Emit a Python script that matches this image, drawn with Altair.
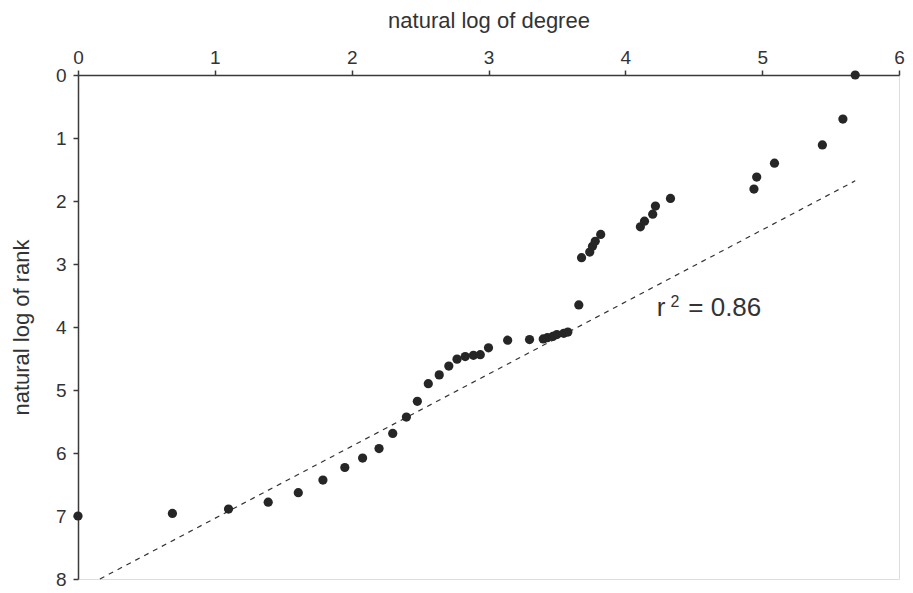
import altair as alt
import pandas as pd

# ln(degree) and ln(rank)
ln_degree = [0.00, 0.69, 1.10, 1.39, 1.61, 1.79, 1.95, 2.08, 2.20, 2.30,
             2.40, 2.48, 2.56, 2.64, 2.71, 2.77, 2.83, 2.89, 2.94, 3.00,
             3.14, 3.30, 3.40, 3.43, 3.47, 3.50, 3.55, 3.58, 3.66, 3.68,
             3.74, 3.76, 3.78, 3.82, 4.11, 4.14, 4.20, 4.22, 4.33, 4.94,
             4.96, 5.09, 5.44, 5.59, 5.68]
ln_rank = [7.00, 6.96, 6.89, 6.78, 6.63, 6.43, 6.23, 6.08, 5.93, 5.69,
           5.43, 5.18, 4.90, 4.76, 4.62, 4.51, 4.47, 4.45, 4.44, 4.33,
           4.21, 4.20, 4.19, 4.17, 4.15, 4.12, 4.10, 4.08, 3.65, 2.90,
           2.81, 2.72, 2.64, 2.53, 2.41, 2.32, 2.21, 2.08, 1.96, 1.81,
           1.62, 1.40, 1.11, 0.70, 0.00]

# fitted regression line end points
fit_x = [0.16, 5.68]
fit_y = [8.00, 1.68]

x_ticks = [0, 1, 2, 3, 4, 5, 6]
y_ticks = [0, 1, 2, 3, 4, 5, 6, 7, 8]

# annotation pieces
ann_text = ["r", "2", "= 0.86"]
ann_x = [4.23, 4.33, 4.46]
ann_y = [3.82, 3.68, 3.82]
ann_size = [26, 16, 26]

pts = pd.DataFrame({"x": ln_degree, "y": ln_rank})
fit = pd.DataFrame({"x": fit_x, "y": fit_y})
ann = pd.DataFrame({"x": ann_x, "y": ann_y, "t": ann_text, "s": ann_size})

FONT = "Liberation Sans"
AX = "#3a3a3a"

xs = alt.Scale(domain=[0, 6], nice=False, zero=False)
ys = alt.Scale(domain=[0, 8], nice=False, zero=False, reverse=True)

x_axis = alt.Axis(orient="top", values=x_ticks, format="d",
                  title="natural log of degree",
                  grid=False, tickSize=5, labelFontSize=19, titleFontSize=22,
                  titleFontWeight="normal", labelFlush=False, labelOverlap=False,
                  domainColor=AX, tickColor=AX, labelColor="#333333",
                  titleColor="#333333", labelFont=FONT, titleFont=FONT,
                  domainWidth=1.5, tickWidth=1.5, labelPadding=3, titlePadding=16)
y_axis = alt.Axis(orient="left", values=y_ticks, format="d",
                  title="natural log of rank",
                  grid=False, tickSize=5, labelFontSize=19, titleFontSize=22,
                  titleFontWeight="normal", labelFlush=False, labelOverlap=False,
                  domainColor=AX, tickColor=AX, labelColor="#333333",
                  titleColor="#333333", labelFont=FONT, titleFont=FONT,
                  domainWidth=1.5, tickWidth=1.5, labelPadding=7, titlePadding=22)

points = alt.Chart(pts).mark_circle(size=85, opacity=1, color="#262626").encode(
    x=alt.X("x:Q", scale=xs, axis=x_axis),
    y=alt.Y("y:Q", scale=ys, axis=y_axis),
)

line = alt.Chart(fit).mark_line(color="#333333", strokeWidth=1.2,
                                strokeDash=[5, 5]).encode(
    x=alt.X("x:Q", scale=xs),
    y=alt.Y("y:Q", scale=ys),
)

text = alt.Chart(ann).mark_text(align="left", baseline="alphabetic",
                                font=FONT, color="#333333").encode(
    x=alt.X("x:Q", scale=xs),
    y=alt.Y("y:Q", scale=ys),
    text="t:N",
    size=alt.Size("s:Q", scale=None, legend=None),
)

chart = (line + points + text).properties(
    width=821, height=504,
    autosize=alt.AutoSizeParams(type="none"),
    padding={"left": 70, "top": 67, "right": 6, "bottom": 10},
).configure_view(stroke=None).configure(background="white")

chart.save("out.html", embed_options={"renderer": "svg", "actions": False})
